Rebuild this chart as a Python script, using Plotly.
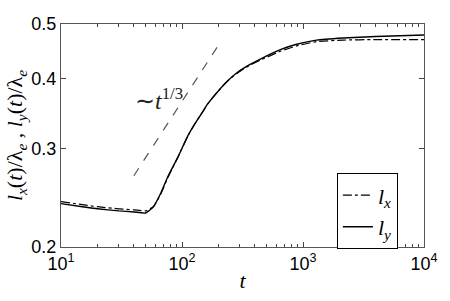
import numpy as np
import plotly.graph_objects as go

t = [10, 15, 20, 30, 40, 50, 58, 67, 77, 93, 112, 128, 145, 163, 198, 239, 288, 362, 444, 650, 886,
     1293, 2140, 3980, 10000]
l_y = [0.239, 0.236, 0.234, 0.232, 0.231, 0.230, 0.236, 0.250, 0.268, 0.290, 0.316, 0.332, 0.346,
       0.360, 0.379, 0.396, 0.410, 0.423, 0.433, 0.450, 0.460, 0.468, 0.472, 0.475, 0.478]
l_x = [0.241, 0.238, 0.236, 0.234, 0.233, 0.232, 0.236, 0.249, 0.267, 0.290, 0.316, 0.332, 0.346,
       0.360, 0.379, 0.396, 0.409, 0.422, 0.431, 0.447, 0.457, 0.465, 0.468, 0.469, 0.469]
guide_t = [40, 200]
guide_y = [0.268, 0.268 * (200 / 40) ** (1 / 3)]

x_ticks = [10, 100, 1000, 10000]
x_ticktext = ["10<sup>1</sup>", "10<sup>2</sup>", "10<sup>3</sup>", "10<sup>4</sup>"]
y_ticks = [0.2, 0.3, 0.4, 0.5]
y_ticktext = ["0.2", "0.3", "0.4", "0.5"]

minor_x = [m * 10 ** e for e in range(1, 4) for m in range(2, 10)]

serif = "Liberation Serif"
sans = "Liberation Sans"

fig = go.Figure()
fig.add_trace(go.Scatter(x=t, y=l_x, mode="lines", name="<i>l</i><sub><i>x</i></sub>",
                         line=dict(color="black", width=1.2, dash="dashdot", shape="spline", smoothing=0.5)))
fig.add_trace(go.Scatter(x=t, y=l_y, mode="lines", name="<i>l</i><sub><i>y</i></sub>",
                         line=dict(color="black", width=1.4, shape="spline", smoothing=0.5)))
fig.add_trace(go.Scatter(x=guide_t, y=guide_y, mode="lines", showlegend=False,
                         line=dict(color="#555555", width=1.2, dash="dash")))

fig.add_annotation(x=np.log10(64), y=np.log10(0.368), text="∼<i>t</i><sup>1/3</sup>",
                   showarrow=False, font=dict(family=serif, size=24, color="#222"))

fig.update_layout(
    width=450, height=301,
    margin=dict(l=61, r=21, t=24, b=48),
    paper_bgcolor="white", plot_bgcolor="white",
    showlegend=True,
    legend=dict(x=0.76, y=0.33, xanchor="left", yanchor="top",
                bordercolor="black", borderwidth=1, bgcolor="white",
                font=dict(family=serif, size=22, color="black"),
                tracegroupgap=0, itemwidth=30),
)
fig.update_xaxes(type="log", range=[1, 4], tickvals=x_ticks, ticktext=x_ticktext,
                 ticks="inside", ticklen=5, tickcolor="#444", showline=True, linecolor="#555",
                 mirror="ticks", showgrid=False, zeroline=False,
                 tickfont=dict(family=sans, size=18, color="black"),
                 minor=dict(tickvals=minor_x, ticks="inside", ticklen=3, tickcolor="#444", showgrid=False),
                 title=dict(text="<i>t</i>", font=dict(family=serif, size=22, color="black"), standoff=0))
fig.update_yaxes(type="log", range=[np.log10(0.2), np.log10(0.5)], tickvals=y_ticks, ticktext=y_ticktext,
                 ticks="inside", ticklen=5, tickcolor="#444", showline=True, linecolor="#555",
                 mirror="ticks", showgrid=False, zeroline=False,
                 tickfont=dict(family=sans, size=18, color="black"),
                 title=dict(text="<i>l<sub>x</sub></i>(<i>t</i>)/λ<sub><i>e</i></sub> , <i>l<sub>y</sub></i>(<i>t</i>)/λ<sub><i>e</i></sub>",
                            font=dict(family=serif, size=22, color="black"), standoff=2))

fig.write_html("out.html", config={"displayModeBar": False},
               post_script="document.body.style.margin='0';")
